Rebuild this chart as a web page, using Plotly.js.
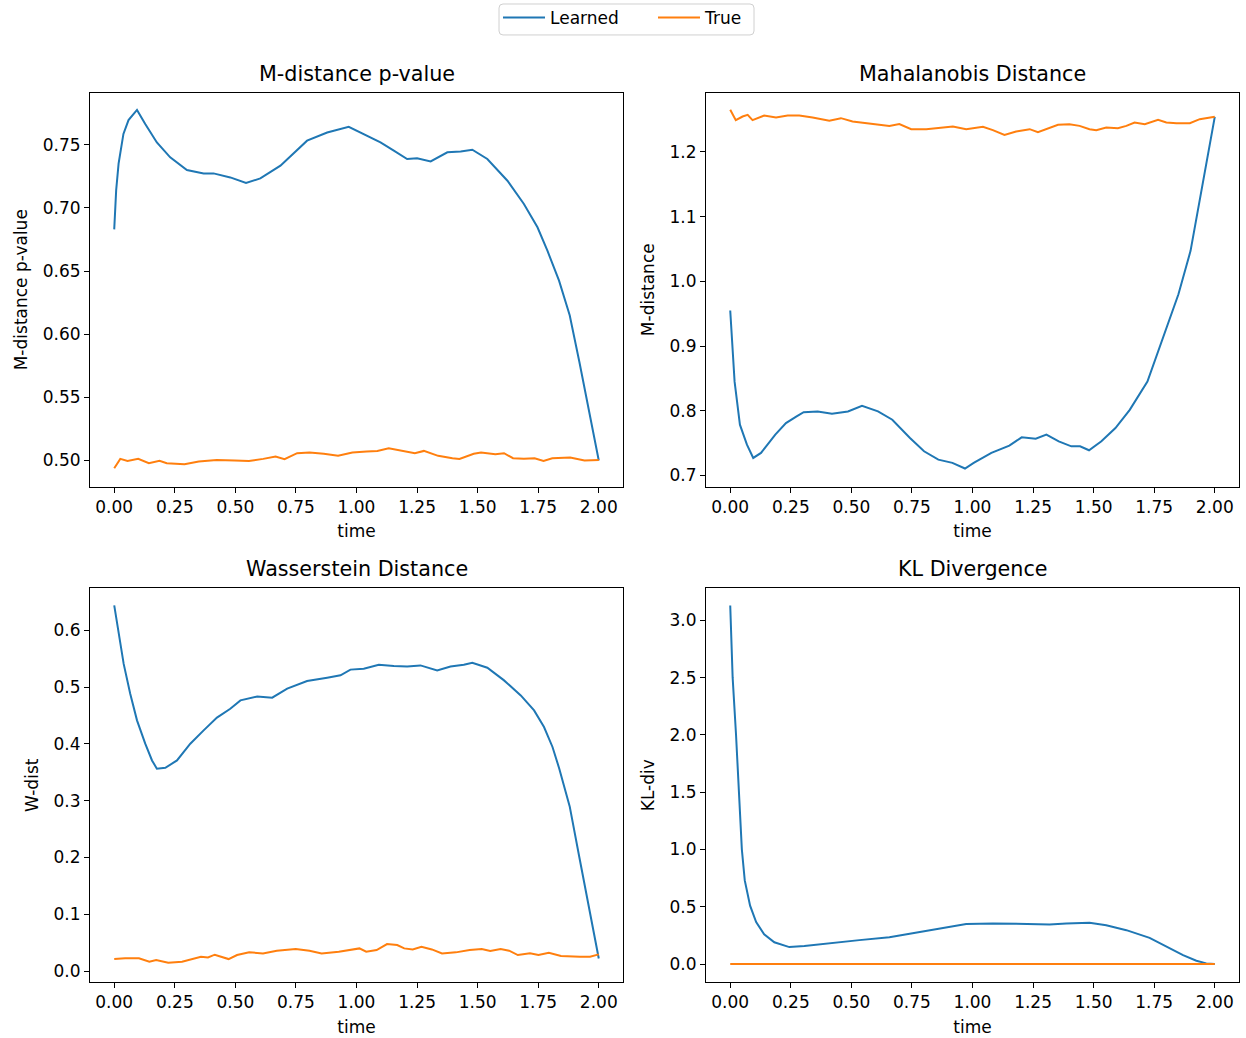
<!DOCTYPE html>
<html>
<head>
<meta charset="utf-8">
<script src="https://cdn.plot.ly/plotly-3.0.1.min.js"></script>
<style>html,body{margin:0;padding:0;background:#fff;}#plot{width:1246px;height:1038px;}</style>
</head>
<body>
<div id="plot"></div>
<script>
// ---------- data ----------
const seriesNames = ["Learned", "True"];
const subplotTitles = ["M-distance p-value", "Mahalanobis Distance", "Wasserstein Distance", "KL Divergence"];
const yLabels = ["M-distance p-value", "M-distance", "W-dist", "KL-div"];
const xLabel = "time";
const timeTicks = [0, 0.25, 0.5, 0.75, 1.0, 1.25, 1.5, 1.75, 2.0];

// M-distance p-value
const pvalLearnedT = [0, 0.008, 0.018, 0.038, 0.059, 0.094, 0.128, 0.176, 0.231, 0.30, 0.369, 0.41, 0.479, 0.544, 0.603, 0.686, 0.796, 0.879, 0.968, 1.044, 1.099, 1.154, 1.209, 1.25, 1.306, 1.375, 1.43, 1.478, 1.54, 1.623, 1.691, 1.747, 1.788, 1.836, 1.88, 1.92, 1.96, 2.0];
const pvalLearned = [0.683, 0.714, 0.735, 0.7585, 0.7695, 0.7775, 0.7664, 0.7518, 0.740, 0.730, 0.7273, 0.7273, 0.7241, 0.7197, 0.7233, 0.7334, 0.7532, 0.7597, 0.7642, 0.757, 0.7518, 0.7453, 0.7387, 0.7392, 0.7368, 0.744, 0.7447, 0.746, 0.7387, 0.7215, 0.7031, 0.6846, 0.6661, 0.6424, 0.615, 0.578, 0.539, 0.500];
const pvalTrueT = [0, 0.025, 0.055, 0.099, 0.143, 0.187, 0.217, 0.29, 0.349, 0.423, 0.497, 0.556, 0.615, 0.666, 0.703, 0.755, 0.806, 0.865, 0.924, 0.983, 1.042, 1.086, 1.133, 1.189, 1.241, 1.278, 1.337, 1.396, 1.425, 1.484, 1.514, 1.573, 1.609, 1.646, 1.691, 1.735, 1.772, 1.808, 1.882, 1.941, 2.0];
const pvalTrue = [0.4939, 0.5013, 0.4997, 0.5013, 0.4979, 0.4997, 0.4979, 0.4971, 0.4992, 0.5005, 0.5, 0.4997, 0.5013, 0.5032, 0.5011, 0.5058, 0.5063, 0.5053, 0.5037, 0.5063, 0.5071, 0.5076, 0.5097, 0.5076, 0.5058, 0.5076, 0.5037, 0.5018, 0.5013, 0.5053, 0.5063, 0.505, 0.5058, 0.5018, 0.5013, 0.5018, 0.4997, 0.5018, 0.5024, 0.5, 0.5005];

// Mahalanobis distance
const mdistLearnedT = [0, 0.018, 0.04, 0.069, 0.095, 0.127, 0.186, 0.23, 0.274, 0.303, 0.361, 0.42, 0.486, 0.544, 0.61, 0.669, 0.742, 0.8, 0.859, 0.917, 0.969, 1.005, 1.078, 1.152, 1.203, 1.261, 1.305, 1.356, 1.408, 1.444, 1.481, 1.532, 1.59, 1.649, 1.722, 1.76, 1.8, 1.85, 1.9, 1.95, 2.0];
const mdistLearned = [0.955, 0.845, 0.7785, 0.7477, 0.7272, 0.7349, 0.7631, 0.781, 0.7913, 0.7979, 0.799, 0.7954, 0.799, 0.8077, 0.799, 0.7862, 0.758, 0.7374, 0.7246, 0.7195, 0.7108, 0.7195, 0.7349, 0.7462, 0.759, 0.7569, 0.7631, 0.7528, 0.7451, 0.7451, 0.739, 0.7528, 0.7733, 0.8015, 0.8451, 0.885, 0.925, 0.98, 1.047, 1.15, 1.254];
const mdistTrueT = [0, 0.007, 0.023, 0.051, 0.072, 0.092, 0.14, 0.189, 0.237, 0.285, 0.34, 0.409, 0.457, 0.505, 0.574, 0.657, 0.698, 0.747, 0.809, 0.864, 0.919, 0.974, 1.043, 1.084, 1.132, 1.18, 1.236, 1.27, 1.311, 1.353, 1.4, 1.442, 1.483, 1.511, 1.552, 1.6, 1.635, 1.669, 1.711, 1.766, 1.8, 1.842, 1.897, 1.938, 2.0];
const mdistTrue = [1.265, 1.26, 1.249, 1.2545, 1.257, 1.249, 1.256, 1.253, 1.256, 1.256, 1.253, 1.248, 1.252, 1.247, 1.244, 1.240, 1.243, 1.235, 1.235, 1.2375, 1.239, 1.235, 1.2386, 1.2335, 1.2262, 1.2313, 1.235, 1.2304, 1.236, 1.2417, 1.2427, 1.2401, 1.235, 1.2335, 1.2375, 1.2365, 1.2401, 1.2452, 1.2427, 1.2494, 1.2452, 1.2442, 1.2442, 1.2504, 1.254];

// Wasserstein distance
const wdistLearnedT = [0, 0.018, 0.039, 0.066, 0.094, 0.128, 0.156, 0.176, 0.211, 0.259, 0.314, 0.369, 0.424, 0.479, 0.521, 0.59, 0.652, 0.714, 0.796, 0.879, 0.934, 0.975, 1.03, 1.092, 1.154, 1.209, 1.264, 1.333, 1.388, 1.443, 1.478, 1.54, 1.609, 1.678, 1.733, 1.774, 1.809, 1.837, 1.88, 1.92, 1.96, 2.0];
const wdistLearned = [0.644, 0.594, 0.541, 0.4886, 0.4416, 0.4005, 0.371, 0.3565, 0.358, 0.371, 0.4005, 0.424, 0.4465, 0.462, 0.4768, 0.4838, 0.4815, 0.4974, 0.511, 0.5167, 0.521, 0.531, 0.5327, 0.5397, 0.5372, 0.5366, 0.5384, 0.5296, 0.5366, 0.5395, 0.543, 0.5343, 0.512, 0.4856, 0.4592, 0.4299, 0.3947, 0.3565, 0.29, 0.2, 0.11, 0.022];
const wdistTrueT = [0, 0.045, 0.102, 0.145, 0.173, 0.223, 0.28, 0.316, 0.358, 0.387, 0.415, 0.472, 0.507, 0.557, 0.614, 0.671, 0.749, 0.806, 0.856, 0.927, 1.012, 1.04, 1.083, 1.126, 1.168, 1.197, 1.232, 1.268, 1.311, 1.353, 1.41, 1.467, 1.517, 1.552, 1.595, 1.63, 1.666, 1.716, 1.751, 1.794, 1.844, 1.922, 1.964, 2.0];
const wdistTrue = [0.0211, 0.0225, 0.0225, 0.0165, 0.0194, 0.0147, 0.0165, 0.0205, 0.0252, 0.024, 0.0288, 0.0211, 0.0282, 0.0329, 0.0311, 0.0358, 0.0387, 0.0358, 0.0311, 0.034, 0.0399, 0.034, 0.037, 0.0476, 0.0458, 0.0399, 0.0381, 0.0428, 0.0381, 0.0311, 0.0329, 0.037, 0.0387, 0.0352, 0.0387, 0.0358, 0.0282, 0.0311, 0.0282, 0.0323, 0.0264, 0.0252, 0.0252, 0.0294];

// KL divergence
const klLearnedT = [0, 0.01, 0.024, 0.037, 0.048, 0.06, 0.082, 0.107, 0.14, 0.182, 0.244, 0.306, 0.41, 0.533, 0.657, 0.781, 0.884, 0.974, 1.084, 1.18, 1.318, 1.387, 1.483, 1.552, 1.635, 1.731, 1.8, 1.869, 1.924, 1.965, 2.0];
const klLearned = [3.13, 2.5, 2.0, 1.43, 1.0, 0.73, 0.51, 0.366, 0.26, 0.19, 0.148, 0.157, 0.183, 0.209, 0.235, 0.279, 0.314, 0.35, 0.355, 0.349, 0.346, 0.355, 0.36, 0.339, 0.296, 0.229, 0.157, 0.078, 0.029, 0.006, 0.0];
const klTrueT = [0, 0.5, 1.0, 1.5, 2.0];
const klTrue = [0, 0, 0, 0, 0];

// ---------- build figure ----------
const W = 1246, H = 1038;
const colLearned = "#1f77b4", colTrue = "#ff7f0e";
const FONT = "DejaVu Sans, Liberation Sans, sans-serif";
const FS = 17, TFS = 20.7;

const panels = [
  {xa: "x",  ya: "y",  lt: pvalLearnedT,  lv: pvalLearned,  tt: pvalTrueT,  tv: pvalTrue},
  {xa: "x2", ya: "y2", lt: mdistLearnedT, lv: mdistLearned, tt: mdistTrueT, tv: mdistTrue},
  {xa: "x3", ya: "y3", lt: wdistLearnedT, lv: wdistLearned, tt: wdistTrueT, tv: wdistTrue},
  {xa: "x4", ya: "y4", lt: klLearnedT,    lv: klLearned,    tt: klTrueT,    tv: klTrue}
];

const traces = [];
panels.forEach((p, i) => {
  traces.push({x: p.lt, y: p.lv, xaxis: p.xa, yaxis: p.ya, type: "scatter", mode: "lines",
    name: seriesNames[0], legendgroup: "L", showlegend: i === 0,
    line: {color: colLearned, width: 2}});
  traces.push({x: p.tt, y: p.tv, xaxis: p.xa, yaxis: p.ya, type: "scatter", mode: "lines",
    name: seriesNames[1], legendgroup: "T", showlegend: i === 0,
    line: {color: colTrue, width: 2}});
});

const colDom = [[90 / W, 623 / W], [706 / W, 1239 / W]];
const rowDom = [[1 - 486 / H, 1 - 92 / H], [1 - 982 / H, 1 - 588 / H]];

function xAxis(dom, anchor) {
  return {domain: dom, anchor: anchor, range: [-0.1, 2.1], tickvals: timeTicks, tickformat: ".2f",
    showgrid: false, zeroline: false, showline: true, mirror: true, linecolor: "#000", linewidth: 1,
    ticks: "outside", ticklen: 5, tickwidth: 1, tickcolor: "#000",
    tickfont: {family: FONT, size: FS, color: "#000"},
    title: {text: xLabel, font: {family: FONT, size: FS, color: "#000"}, standoff: 9}, automargin: false};
}
function yAxis(dom, anchor, range, tv, fmt, label) {
  return {domain: dom, anchor: anchor, range: range, tickvals: tv, tickformat: fmt,
    showgrid: false, zeroline: false, showline: true, mirror: true, linecolor: "#000", linewidth: 1,
    ticks: "outside", ticklen: 5, tickwidth: 1, tickcolor: "#000",
    tickfont: {family: FONT, size: FS, color: "#000"},
    title: {text: label, font: {family: FONT, size: FS, color: "#000"}, standoff: 10}, automargin: false};
}

// legend frame (rounded rectangle, in paper units)
const lx0 = 499 / W, lx1 = 754 / W, ly0 = 1 - 34 / H, ly1 = 1 - 3 / H, rx = 4 / W, ry = 4 / H;
const framePath = `M${lx0 + rx},${ly1} L${lx1 - rx},${ly1} Q${lx1},${ly1} ${lx1},${ly1 - ry} ` +
  `L${lx1},${ly0 + ry} Q${lx1},${ly0} ${lx1 - rx},${ly0} L${lx0 + rx},${ly0} Q${lx0},${ly0} ${lx0},${ly0 + ry} ` +
  `L${lx0},${ly1 - ry} Q${lx0},${ly1} ${lx0 + rx},${ly1} Z`;

const layout = {
  width: W, height: H,
  margin: {l: 0, r: 0, t: 0, b: 0},
  paper_bgcolor: "#fff", plot_bgcolor: "#fff",
  font: {family: FONT, color: "#000"},
  showlegend: true,
  legend: {orientation: "h", x: 498 / W, xanchor: "left", y: 1 + 1 / H, yanchor: "top",
    bordercolor: "rgba(0,0,0,0)", borderwidth: 0, bgcolor: "rgba(0,0,0,0)",
    font: {family: FONT, size: FS, color: "#000"}, itemwidth: 42, entrywidth: 98},
  shapes: [{type: "path", xref: "paper", yref: "paper", path: framePath,
    line: {color: "#d0d0d0", width: 1}, fillcolor: "rgba(255,255,255,0.8)", layer: "above"}],
  xaxis:  xAxis(colDom[0], "y"),
  xaxis2: xAxis(colDom[1], "y2"),
  xaxis3: xAxis(colDom[0], "y3"),
  xaxis4: xAxis(colDom[1], "y4"),
  yaxis:  yAxis(rowDom[0], "x",  [0.4794, 0.791], [0.5, 0.55, 0.6, 0.65, 0.7, 0.75], ".2f", yLabels[0]),
  yaxis2: yAxis(rowDom[0], "x2", [0.683, 1.291], [0.7, 0.8, 0.9, 1.0, 1.1, 1.2], ".1f", yLabels[1]),
  yaxis3: yAxis(rowDom[1], "x3", [-0.0194, 0.674], [0, 0.1, 0.2, 0.3, 0.4, 0.5, 0.6], ".1f", yLabels[2]),
  yaxis4: yAxis(rowDom[1], "x4", [-0.157, 3.279], [0, 0.5, 1.0, 1.5, 2.0, 2.5, 3.0], ".1f", yLabels[3]),
  annotations: subplotTitles.map((t, i) => ({
    text: t, xref: "paper", yref: "paper",
    x: (colDom[i % 2][0] + colDom[i % 2][1]) / 2,
    y: rowDom[Math.floor(i / 2)][1],
    xanchor: "center", yanchor: "bottom", yshift: 5, showarrow: false,
    font: {family: FONT, size: TFS, color: "#000"}
  }))
};

Plotly.newPlot("plot", traces, layout, {displayModeBar: false, staticPlot: true});
</script>
</body>
</html>
